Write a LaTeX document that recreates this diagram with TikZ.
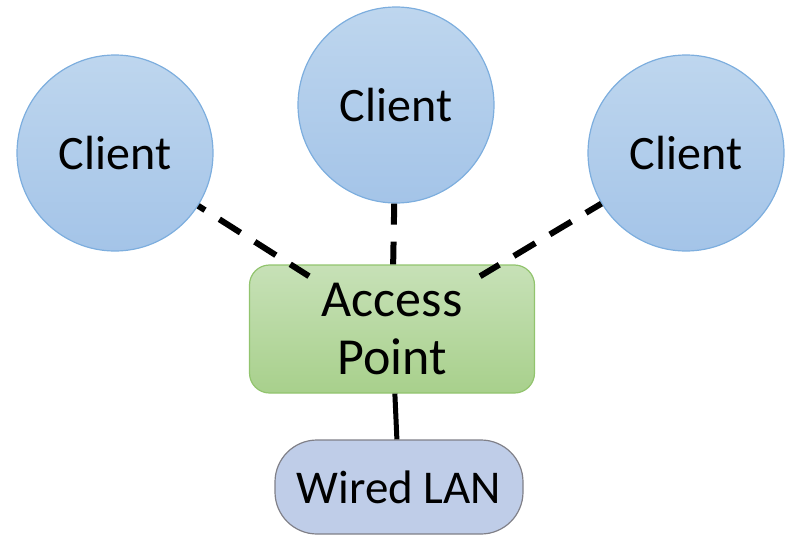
\documentclass[tikz,border=0pt]{standalone}
\usepackage{fontspec}
\setmainfont{Carlito}
\definecolor{clienttop}{RGB}{190,214,238}
\definecolor{clientbot}{RGB}{164,196,232}
\definecolor{clientborder}{RGB}{125,174,222}
\definecolor{aptop}{RGB}{199,225,183}
\definecolor{apbot}{RGB}{168,208,140}
\definecolor{apborder}{RGB}{146,196,110}
\definecolor{lanfill}{RGB}{191,205,232}
\definecolor{lanborder}{RGB}{128,128,136}
\begin{document}
\begin{tikzpicture}[x=1pt,y=-1pt,
  client/.style={circle, minimum size=196pt, inner sep=0pt, draw=clientborder, line width=1.2pt,
    top color=clienttop, bottom color=clientbot, font=\fontsize{48}{52}\selectfont},
  apbox/.style={rectangle, rounded corners=20pt, minimum width=285pt, minimum height=128pt,
    inner sep=0pt, draw=apborder, line width=1.2pt, top color=aptop, bottom color=apbot,
    align=center, font=\fontsize{52}{58}\selectfont},
  lanbox/.style={rectangle, rounded corners=42pt, minimum width=248pt, minimum height=94pt,
    inner sep=0pt, draw=lanborder, line width=1.2pt, fill=lanfill,
    font=\fontsize{47}{52}\selectfont},
  conn/.style={line width=6pt, black, dash pattern=on 25pt off 17pt},
  wire/.style={line width=5pt, black}]
\useasboundingbox (0,0) rectangle (790,535);
\node[client] (c1) at (115,153) {Client};
\node[client] (c2) at (396,105) {Client};
\node[client] (c3) at (686,153) {Client};
\node[apbox] (ap) at (392,329) {Access\\Point};
\node[lanbox] (wl) at (399,487) {Wired LAN};
\draw[conn, dash phase=17pt, shorten >=-22pt] (c1) -- (ap);
\draw[conn, dash phase=4pt] (c2) -- (ap);
\draw[conn, dash phase=7pt, shorten >=-23pt] (c3) -- (ap);
\draw[wire] (ap) -- (wl);
\end{tikzpicture}
\end{document}
